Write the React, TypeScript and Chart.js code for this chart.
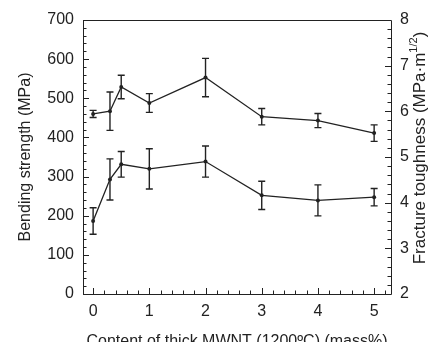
import React, { useEffect, useRef } from "react";
import { Chart, registerables } from "chart.js";

Chart.register(...registerables);

// ---- data ----
const mwntContent = [0, 0.3, 0.5, 1, 2, 3, 4, 5];
const bendingStrength = [460, 467, 529, 488, 553, 453, 443, 411];
const bendingStrengthErr = [9, 49, 30, 24, 49, 21, 18, 21];
const fractureToughness = [3.6, 4.51, 4.84, 4.74, 4.9, 4.16, 4.05, 4.12];
const fractureToughnessErr = [0.29, 0.45, 0.28, 0.44, 0.34, 0.31, 0.34, 0.19];

const xTickValues = [0, 1, 2, 3, 4, 5];
const leftTickValues = [0, 100, 200, 300, 400, 500, 600, 700];
const rightTickValues = [2, 3, 4, 5, 6, 7, 8];

const xTitle = "Content of thick MWNT (1200ºC) (mass%)";
const leftTitle = "Bending strength (MPa)";
const rightTitleMain = "Fracture toughness (MPa·m";
const rightTitleSup = "1/2";
const rightTitleEnd = ")";

const FONT = '"Liberation Sans", Arial, Helvetica, sans-serif';
const INK = "#222";

export default function App() {
  const ref = useRef<HTMLCanvasElement>(null);

  useEffect(() => {
    const canvas = ref.current;
    if (!canvas) return;

    const errorBars = {
      id: "errorBars",
      afterDatasetsDraw(chart: any) {
        const ctx = chart.ctx;
        const errs = [bendingStrengthErr, fractureToughnessErr];
        chart.data.datasets.forEach((ds: any, di: number) => {
          const meta = chart.getDatasetMeta(di);
          const yScale = chart.scales[ds.yAxisID];
          ctx.save();
          ctx.strokeStyle = INK;
          ctx.lineWidth = 1.4;
          meta.data.forEach((pt: any, i: number) => {
            const v = ds.data[i].y;
            const e = errs[di][i];
            const x = pt.x;
            const yt = yScale.getPixelForValue(v + e);
            const yb = yScale.getPixelForValue(v - e);
            const cap = 3.5;
            ctx.beginPath();
            ctx.moveTo(x, yt);
            ctx.lineTo(x, yb);
            ctx.moveTo(x - cap, yt);
            ctx.lineTo(x + cap, yt);
            ctx.moveTo(x - cap, yb);
            ctx.lineTo(x + cap, yb);
            ctx.stroke();
          });
          ctx.restore();
        });
      },
    };

    const frame = {
      id: "frame",
      afterDraw(chart: any) {
        const ctx = chart.ctx;
        const a = chart.chartArea;
        const xs = chart.scales.x;
        const yl = chart.scales.y;
        const yr = chart.scales.y2;
        ctx.save();
        ctx.strokeStyle = INK;
        ctx.lineWidth = 1;
        ctx.beginPath();
        ctx.rect(Math.round(a.left) + 0.5, Math.round(a.top) + 0.5, Math.round(a.right - a.left), Math.round(a.bottom - a.top));
        ctx.stroke();

        ctx.beginPath();
        // bottom ticks, every 0.2
        for (let k = -1; k <= 27; k++) {
          const v = k * 0.2;
          if (v < xs.min || v > xs.max) continue;
          const px = Math.round(xs.getPixelForValue(v)) + 0.5;
          const len = k % 5 === 0 ? 6 : 3.5;
          ctx.moveTo(px, a.bottom);
          ctx.lineTo(px, a.bottom - len);
        }
        // left ticks, every 20
        for (let k = 0; k <= 35; k++) {
          const v = k * 20;
          const py = Math.round(yl.getPixelForValue(v)) + 0.5;
          const len = k % 5 === 0 ? 6 : 3.5;
          ctx.moveTo(a.left, py);
          ctx.lineTo(a.left + len, py);
        }
        // right ticks, every 0.2
        for (let k = 0; k <= 30; k++) {
          const v = 2 + k * 0.2;
          const py = Math.round(yr.getPixelForValue(v)) + 0.5;
          const len = k % 5 === 0 ? 6 : 3.5;
          ctx.moveTo(a.right, py);
          ctx.lineTo(a.right - len, py);
        }
        ctx.stroke();

        // right title, reading bottom to top
        const cy = 148;
        const cx = 420;
        ctx.translate(cx, cy);
        ctx.rotate(-Math.PI / 2);
        ctx.fillStyle = INK;
        ctx.textBaseline = "middle";
        ctx.textAlign = "left";
        const mainFont = `17px ${FONT}`;
        const supFont = `11px ${FONT}`;
        ctx.font = mainFont;
        const w1 = ctx.measureText(rightTitleMain).width;
        const w3 = ctx.measureText(rightTitleEnd).width;
        ctx.font = supFont;
        const w2 = ctx.measureText(rightTitleSup).width;
        const total = w1 + w2 + w3;
        let x0 = -total / 2;
        ctx.font = mainFont;
        ctx.fillText(rightTitleMain, x0, 0);
        x0 += w1;
        ctx.font = supFont;
        ctx.fillText(rightTitleSup, x0, -6.5);
        x0 += w2;
        ctx.font = mainFont;
        ctx.fillText(rightTitleEnd, x0, 0);
        ctx.restore();
      },
    };

    const tickFont = { family: FONT, size: 16 };

    const chart = new Chart(canvas, {
      type: "line",
      data: {
        datasets: [
          {
            label: "Bending strength",
            data: mwntContent.map((x, i) => ({ x, y: bendingStrength[i] })),
            yAxisID: "y",
            borderColor: INK,
            backgroundColor: INK,
            borderWidth: 1.3,
            pointRadius: 2,
            pointBorderWidth: 0,
            tension: 0,
          },
          {
            label: "Fracture toughness",
            data: mwntContent.map((x, i) => ({ x, y: fractureToughness[i] })),
            yAxisID: "y2",
            borderColor: INK,
            backgroundColor: INK,
            borderWidth: 1.3,
            pointRadius: 2,
            pointBorderWidth: 0,
            tension: 0,
          },
        ],
      },
      options: {
        responsive: false,
        animation: false,
        devicePixelRatio: 1,
        layout: { padding: { top: 20, left: 0, right: 0, bottom: 0 } },
        plugins: { legend: { display: false }, tooltip: { enabled: false } },
        scales: {
          x: {
            type: "linear",
            min: -0.18,
            max: 5.3,
            afterBuildTicks: (s: any) => {
              s.ticks = xTickValues.map((v) => ({ value: v }));
            },
            afterFit: (s: any) => {
              s.height = 62;
            },
            grid: { display: false, drawTicks: false },
            border: { display: false },
            ticks: { font: tickFont, color: INK, padding: 8, maxRotation: 0, callback: (v: any) => String(v) },
            title: { display: true, text: xTitle, font: { family: FONT, size: 16 }, color: INK, padding: { top: 0, bottom: 5 } },
          },
          y: {
            type: "linear",
            position: "left",
            min: 0,
            max: 700,
            afterBuildTicks: (s: any) => {
              s.ticks = leftTickValues.map((v) => ({ value: v }));
            },
            afterFit: (s: any) => {
              s.width = 83;
            },
            grid: { display: false, drawTicks: false },
            border: { display: false },
            ticks: { font: tickFont, color: INK, padding: 9, callback: (v: any) => String(v) },
            title: { display: true, text: leftTitle, font: { family: FONT, size: 16 }, color: INK, padding: { top: 16, bottom: 0 } },
          },
          y2: {
            type: "linear",
            position: "right",
            min: 2,
            max: 8,
            afterBuildTicks: (s: any) => {
              s.ticks = rightTickValues.map((v) => ({ value: v }));
            },
            afterFit: (s: any) => {
              s.width = 55;
            },
            grid: { display: false, drawTicks: false },
            border: { display: false },
            ticks: { font: tickFont, color: INK, padding: 9, callback: (v: any) => String(v) },
          },
        },
      },
      plugins: [errorBars, frame],
    } as any);

    return () => chart.destroy();
  }, []);

  return (
    <div style={{ position: "fixed", left: 0, top: 0, width: 446, height: 356, background: "#fff" }}>
      <canvas ref={ref} width={446} height={356} style={{ display: "block", width: 446, height: 356 }} />
    </div>
  );
}
